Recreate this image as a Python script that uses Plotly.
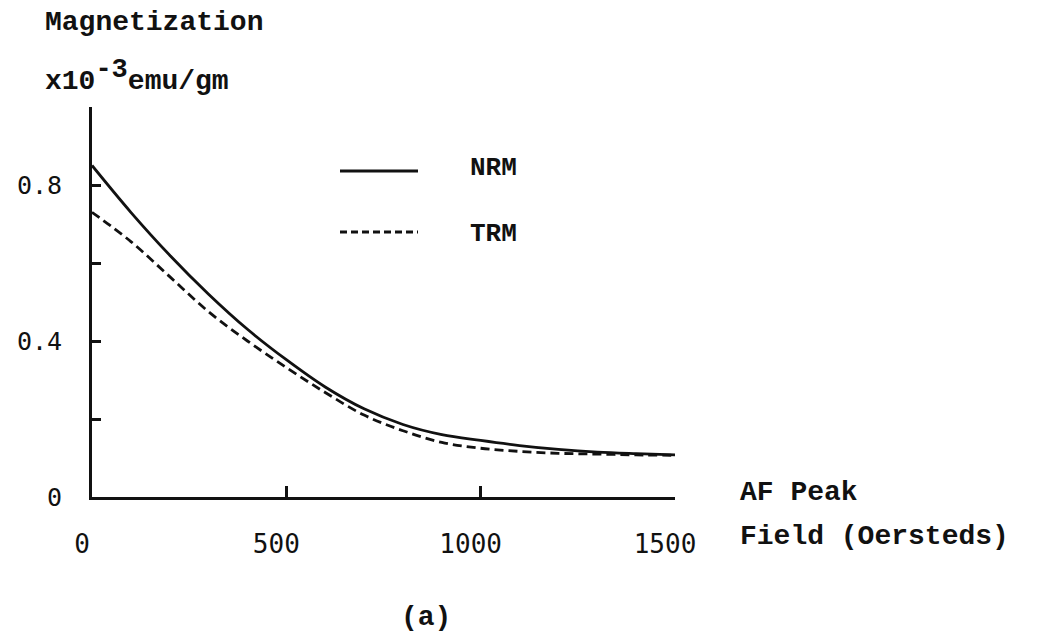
import plotly.graph_objects as go

# AF demagnetization of NRM and TRM
field_oe = [0, 100, 200, 300, 400, 500, 600, 700, 800, 900, 1000, 1100, 1200, 1300, 1400, 1500]
nrm = [0.85, 0.73, 0.62, 0.52, 0.43, 0.352, 0.282, 0.226, 0.186, 0.16, 0.145, 0.132, 0.122, 0.115, 0.111, 0.108]
trm = [0.73, 0.655, 0.565, 0.475, 0.40, 0.332, 0.268, 0.21, 0.17, 0.14, 0.125, 0.117, 0.112, 0.11, 0.108, 0.107]

x_tick_vals = [0, 500, 1000, 1500]
x_tick_text = ["0", "500", "1000", "1500"]
y_tick_vals = [0, 0.2, 0.4, 0.6, 0.8, 1.0]
y_tick_text = ["0", "", "0.4", "", "0.8", ""]

W, H = 1057, 636
L, R, T, B = 92, 382, 107, 139
PW, PH = W - L - R, H - T - B

TYPE = "Liberation Mono, Courier New, monospace"
NUM = "DejaVu Sans Mono, monospace"
INK = "#111111"


def px(x):
    return (x - L) / PW


def py(y):
    return (H - B - y) / PH


fig = go.Figure()
fig.add_trace(go.Scatter(x=field_oe, y=nrm, mode="lines", line=dict(color=INK, width=2.8, shape="spline"),
                         name="NRM", showlegend=False))
fig.add_trace(go.Scatter(x=field_oe, y=trm, mode="lines",
                         line=dict(color=INK, width=2.8, shape="spline", dash="9px,5px"),
                         name="TRM", showlegend=False))

# key
fig.add_shape(type="line", xref="paper", yref="paper", x0=px(340), x1=px(418), y0=py(171), y1=py(171),
              line=dict(color=INK, width=2.8))
fig.add_shape(type="line", xref="paper", yref="paper", x0=px(340), x1=px(418), y0=py(232), y1=py(232),
              line=dict(color=INK, width=2.8, dash="7px,4px"))


def label(text, x, y, size=28, xanchor="left"):
    fig.add_annotation(text=text, xref="paper", yref="paper", x=px(x), y=py(y), xanchor=xanchor,
                       yanchor="middle", showarrow=False,
                       font=dict(family=TYPE, size=size, color=INK, weight="bold"))


label("NRM", 468, 168, size=26)
label("TRM", 468, 234, size=26)
label("Magnetization", 43, 22)
label("x10<sup><span style='font-size:27px'>-3</span></sup>emu/gm", 43, 76)
label("AF Peak", 738, 492)
label("Field (Oersteds)", 738, 536)
label("(a)", 426, 617, xanchor="center")

fig.update_xaxes(range=[0, 1500], tickvals=x_tick_vals, ticktext=x_tick_text, ticks="inside", ticklen=11,
                 tickwidth=2.6, tickcolor=INK, showline=True, linewidth=2.8, linecolor=INK, showgrid=False,
                 zeroline=False, ticklabelstandoff=22, ticklabelshift=-10,
                 tickfont=dict(family=NUM, size=26, color=INK))
fig.update_yaxes(range=[0, 1.0], tickvals=y_tick_vals, ticktext=y_tick_text, ticks="inside", ticklen=9,
                 tickwidth=2.6, tickcolor=INK, showline=True, linewidth=2.8, linecolor=INK, showgrid=False,
                 zeroline=False, ticklabelstandoff=22,
                 tickfont=dict(family=NUM, size=25, color=INK))

fig.update_layout(width=W, height=H, margin=dict(l=L, r=R, t=T, b=B), paper_bgcolor="white",
                  plot_bgcolor="white", showlegend=False)

fig.write_html("out.html")
